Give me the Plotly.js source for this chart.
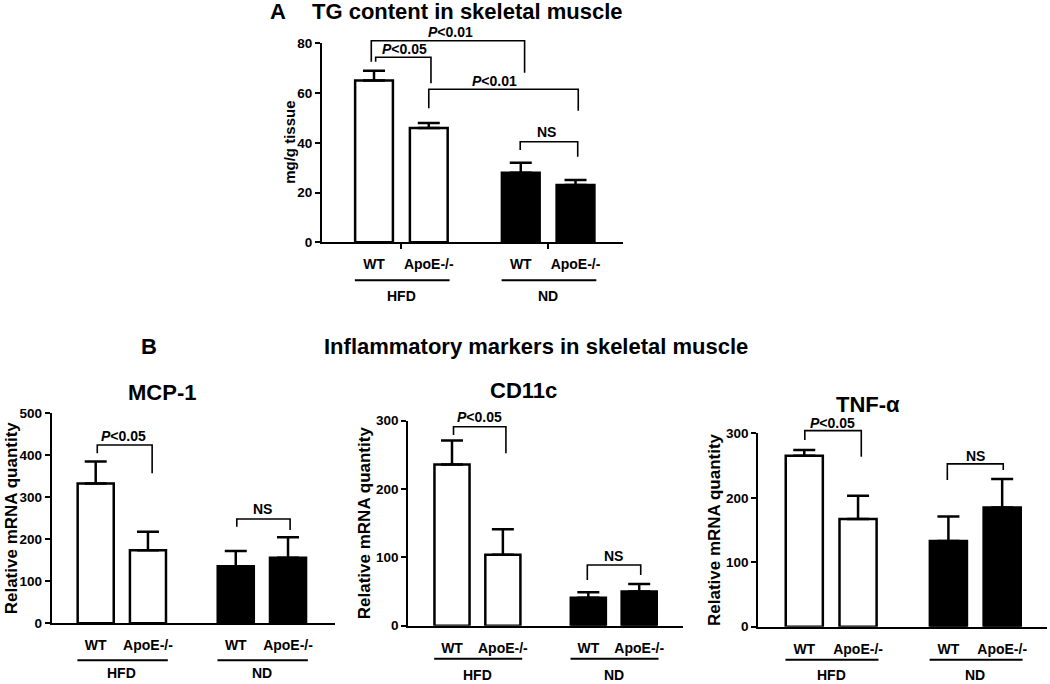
<!DOCTYPE html>
<html><head><meta charset="utf-8">
<script src="https://cdn.plot.ly/plotly-3.0.1.min.js"></script>
<style>html,body{margin:0;padding:0;background:#fff}</style>
</head><body><div id="chart" style="width:1050px;height:684px"></div>
<script>
// ---------- data ----------
const positions = [0, 1, 2.68, 3.68];
const genotypes = ['WT', 'ApoE-/-', 'WT', 'ApoE-/-'];
const dietGroups = ['HFD', 'ND'];
const barColors = ['#ffffff', '#ffffff', '#000000', '#000000'];

const tgValues = [65, 46, 28, 23];
const tgErrors = [4, 2, 4, 2];
const mcpValues = [333, 174, 136, 156];
const mcpErrors = [52, 44, 36, 49];
const cd11cValues = [236, 104, 41, 50];
const cd11cErrors = [35, 37, 8, 11];
const tnfValues = [265, 167, 133, 185];
const tnfErrors = [9, 36, 38, 44];

const tgTicks = [0, 20, 40, 60, 80];
const mcpTicks = [0, 100, 200, 300, 400, 500];
const cd11cTicks = [0, 100, 200, 300];
const tnfTicks = [0, 100, 200, 300];

// comparisons: [xLeft, xRight, yTop, yLeftEnd, yRightEnd, label, labelX, labelY]
const tgComparisons = [
  [0.03, 1.04, 74.4, 72.6, 63.9, '<i>P</i>&lt;0.05', 0.55, 77.6],
  [-0.05, 2.75, 81.0, 72.6, 68.2, '<i>P</i>&lt;0.01', 1.40, 84.4],
  [1.0, 3.73, 61.5, 53.9, 52.9, '<i>P</i>&lt;0.01', 2.2, 64.9],
  [2.67, 3.72, 40.4, 37.1, 34.4, 'NS', 3.15, 44.3]
];
const mcpComparisons = [
  [0.03, 1.08, 424.5, 404.8, 357, '<i>P</i>&lt;0.05', 0.53, 447],
  [2.70, 3.72, 248.3, 230, 222, 'NS', 3.2, 271]
];
const cd11cComparisons = [
  [0.03, 1.06, 291.2, 279, 252.3, '<i>P</i>&lt;0.05', 0.55, 305],
  [2.66, 3.71, 88.8, 66.9, 74.2, 'NS', 3.18, 102]
];
const tnfComparisons = [
  [0.01, 1.06, 304.2, 289.8, 263.8, '<i>P</i>&lt;0.05', 0.53, 316],
  [2.66, 3.70, 252.5, 227.7, 243.2, 'NS', 3.18, 265]
];

// ---------- layout config ----------
const W = 1050, H = 684;
const F = 'Liberation Sans, Arial, Helvetica, sans-serif';
const px = x => x / W;
const py = y => 1 - y / H;

const panels = [
  {values: tgValues, errors: tgErrors, ticks: tgTicks, yMax: 80, comps: tgComparisons,
   xRange: [-0.95, 4.547], xDomain: [px(322), px(623)], yDomain: [py(242.3), py(43.3)],
   yTitle: 'mg/g tissue', yTitleX: 290, yTitleSize: 15, groupTicks: true, lineOff: 38, groupOff: 54},
  {values: mcpValues, errors: mcpErrors, ticks: mcpTicks, yMax: 500, comps: mcpComparisons,
   xRange: [-0.842, 4.579], xDomain: [px(51.7), px(335)], yDomain: [py(623.3), py(413.3)],
   yTitle: 'Relative mRNA quantity', yTitleX: 11, yTitleSize: 17, groupTicks: false, lineOff: 37, groupOff: 50},
  {values: cd11cValues, errors: cd11cErrors, ticks: cd11cTicks, yMax: 300, comps: cd11cComparisons,
   xRange: [-0.859, 4.547], xDomain: [px(408.3), px(683.3)], yDomain: [py(625.7), py(420.7)],
   yTitle: 'Relative mRNA quantity', yTitleX: 364, yTitleSize: 17, groupTicks: false, lineOff: 33, groupOff: 49},
  {values: tnfValues, errors: tnfErrors, ticks: tnfTicks, yMax: 300, comps: tnfComparisons,
   xRange: [-0.855, 4.508], xDomain: [px(758.3), px(1046.7)], yDomain: [py(626.7), py(433.3)],
   yTitle: 'Relative mRNA quantity', yTitleX: 714, yTitleSize: 17, groupTicks: false, lineOff: 33, groupOff: 48}
];

const groupMembers = [[0, 1], [2, 3]];
const groupCenters = groupMembers.map(g => (positions[g[0]] + positions[g[1]]) / 2);

const traces = [];
const layout = {
  width: W, height: H, margin: {l: 0, r: 0, t: 0, b: 0},
  paper_bgcolor: '#ffffff', plot_bgcolor: 'rgba(0,0,0,0)', showlegend: false,
  font: {family: F, color: '#000'}, annotations: [], shapes: [], hovermode: false
};
const boldFont = (s) => ({family: F, size: s, color: '#000', weight: 'bold'});

panels.forEach((p, i) => {
  const n = i === 0 ? '' : String(i + 1);
  const xr = 'x' + n, yr = 'y' + n;
  const f = v => v / p.yMax;
  traces.push({
    type: 'bar', x: positions, y: p.values, xaxis: xr, yaxis: yr,
    width: positions.map(() => 0.69),
    marker: {color: barColors, line: {color: '#000', width: 2.5}},
    error_y: {type: 'data', symmetric: false, array: p.errors, arrayminus: p.errors.map(() => 0),
              color: '#000', thickness: 2.5, width: 11},
    hoverinfo: 'skip'
  });
  const xa = {
    domain: p.xDomain, range: p.xRange, anchor: yr, showline: true, linewidth: 2, linecolor: '#000',
    showgrid: false, zeroline: false, tickmode: 'array', tickvals: positions, ticktext: genotypes,
    ticks: '', tickfont: boldFont(14), ticklabelstandoff: 8, fixedrange: true
  };
  if (p.groupTicks) {
    xa.minor = {tickmode: 'array', tickvals: groupCenters, ticks: 'outside', ticklen: 5, tickwidth: 2, tickcolor: '#000', showgrid: false};
  }
  layout['xaxis' + n] = xa;
  layout['yaxis' + n] = {
    domain: p.yDomain, range: [0, p.yMax], anchor: xr, showline: true, linewidth: 2, linecolor: '#000',
    showgrid: false, zeroline: false, tickmode: 'array', tickvals: p.ticks,
    ticks: 'outside', ticklen: 5, tickwidth: 2, tickcolor: '#000', tickfont: boldFont(13.5), fixedrange: true
  };
  // y title
  layout.annotations.push({text: p.yTitle, xref: 'paper', x: px(p.yTitleX), yref: yr + ' domain', y: 0.5,
    textangle: -90, showarrow: false, xanchor: 'center', yanchor: 'middle', font: boldFont(p.yTitleSize)});
  // group underlines + labels
  groupMembers.forEach((g, gi) => {
    layout.shapes.push({type: 'line', xref: xr, yref: yr + ' domain', ysizemode: 'pixel', yanchor: 0,
      x0: positions[g[0]] - 0.35, x1: positions[g[1]] + 0.38, y0: -p.lineOff, y1: -p.lineOff,
      line: {color: '#000', width: 2}});
    layout.annotations.push({text: dietGroups[gi], xref: xr, x: groupCenters[gi], yref: yr + ' domain', y: 0,
      yshift: -p.groupOff, showarrow: false, xanchor: 'center', yanchor: 'middle', font: boldFont(14)});
  });
  // comparison brackets
  p.comps.forEach(c => {
    layout.shapes.push({type: 'path', xref: xr, yref: yr + ' domain',
      path: `M ${c[0]},${f(c[3])} L ${c[0]},${f(c[2])} L ${c[1]},${f(c[2])} L ${c[1]},${f(c[4])}`,
      line: {color: '#000', width: 1.6}});
    layout.annotations.push({text: c[5], xref: xr, x: c[6], yref: yr + ' domain', y: f(c[7]), showarrow: false,
      xanchor: 'center', yanchor: 'middle', font: boldFont(14)});
  });
});

// titles
const titles = [
  ['A', 278, 11, 22], ['TG content in skeletal muscle', 467, 11, 22],
  ['B', 149, 346, 22], ['Inflammatory markers in skeletal muscle', 536, 346, 22],
  ['MCP-1', 161.7, 392, 22], ['CD11c', 523.7, 390, 22], ['TNF-α', 868, 405, 22]
];
titles.forEach(t => layout.annotations.push({text: t[0], xref: 'paper', yref: 'paper', x: px(t[1]), y: py(t[2]),
  xanchor: 'center', yanchor: 'middle', showarrow: false, font: boldFont(t[3])}));

Plotly.newPlot('chart', traces, layout, {staticPlot: true, displayModeBar: false});
</script>
</body></html>
